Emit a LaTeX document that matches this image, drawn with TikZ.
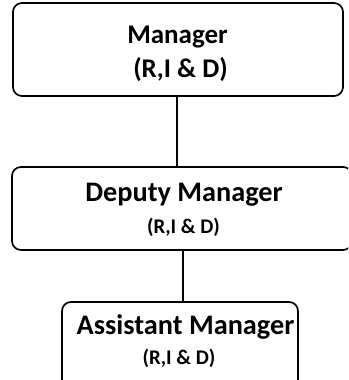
\documentclass[tikz,border=0pt]{standalone}
\usepackage{fontspec}
\setmainfont{Carlito}
\begin{document}
\begin{tikzpicture}[x=1pt,y=-1pt,
  box/.style={draw, line width=1.7pt, rounded corners=9pt, inner sep=0pt},
  link/.style={draw, line width=1.5pt},
  toptext/.style={inner sep=0pt, anchor=base, font=\fontsize{27}{30}\selectfont\bfseries},
  titletext/.style={inner sep=0pt, anchor=base, font=\fontsize{28.3}{32}\selectfont\bfseries},
  subsmall/.style={inner sep=0pt, anchor=base, font=\fontsize{20.8}{24}\selectfont\bfseries}]
\useasboundingbox (0,0) rectangle (348,380);
\clip (0,0) rectangle (348,380);
% boxes
\node[box, minimum width=330pt, minimum height=93pt] (mgr) at (178,49.5) {};
\node[box, minimum width=340pt, minimum height=83pt] (dep) at (182,208.5) {};
\node[box, minimum width=236pt, minimum height=88pt] (asst) at (180,346) {};
% labels
\node[toptext] (mgrT) at (177.5,43) {Manager};
\node[toptext] (mgrS) at (180.5,77) {(R,I \& D)};
\node[titletext] (depT) at (184,201) {Deputy Manager};
\node[subsmall] (depS) at (183.5,233) {(R,I \& D)};
\node[titletext] (asstT) at (185.5,334) {Assistant Manager};
\node[subsmall] (asstS) at (179,364) {(R,I \& D)};
% connectors
\coordinate (axisA) at (177,0);
\coordinate (axisB) at (183,0);
\path[link] (mgr.south -| axisA) -- (dep.north -| axisA);
\path[link] (dep.south -| axisB) -- (asst.north -| axisB);
\end{tikzpicture}
\end{document}
